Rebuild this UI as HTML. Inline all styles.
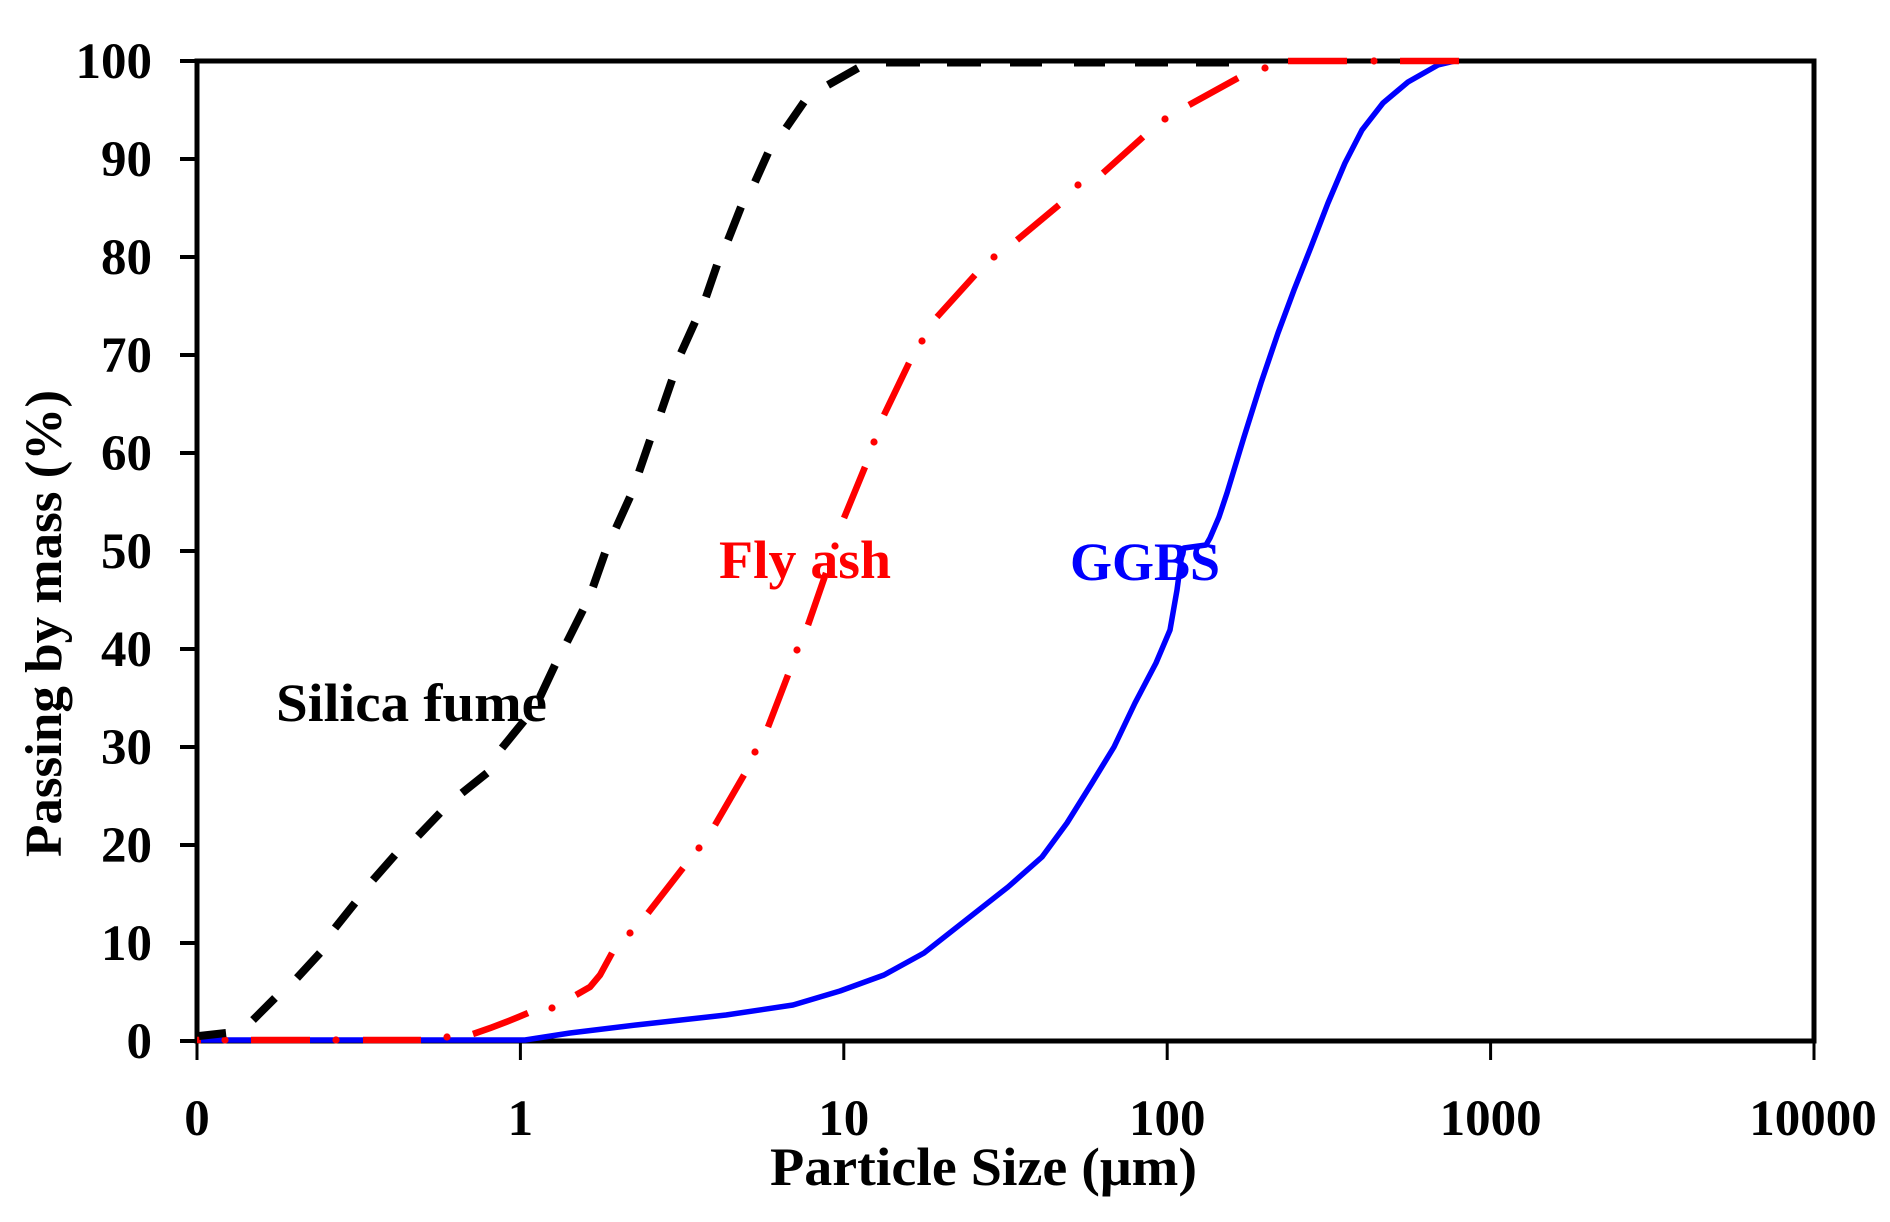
<!DOCTYPE html>
<html>
<head>
<meta charset="utf-8">
<style>
  html,body{margin:0;padding:0;background:#fff;}
  svg{display:block;}
  text{font-family:"Liberation Serif","DejaVu Serif",serif;font-weight:bold;}
</style>
</head>
<body>
<svg width="1890" height="1222" viewBox="0 0 1890 1222" xmlns="http://www.w3.org/2000/svg">
  <rect x="0" y="0" width="1890" height="1222" fill="#fff"/>

  <!-- frame -->
  <rect x="197" y="61" width="1617" height="980" fill="none" stroke="#000" stroke-width="5"/>

  <!-- y ticks -->
  <g stroke="#000" stroke-width="4">
    <line x1="180" y1="1041" x2="197" y2="1041"/>
    <line x1="180" y1="943" x2="197" y2="943"/>
    <line x1="180" y1="845" x2="197" y2="845"/>
    <line x1="180" y1="747" x2="197" y2="747"/>
    <line x1="180" y1="649" x2="197" y2="649"/>
    <line x1="180" y1="551" x2="197" y2="551"/>
    <line x1="180" y1="453" x2="197" y2="453"/>
    <line x1="180" y1="355" x2="197" y2="355"/>
    <line x1="180" y1="257" x2="197" y2="257"/>
    <line x1="180" y1="159" x2="197" y2="159"/>
    <line x1="180" y1="61" x2="197" y2="61"/>
  </g>
  <!-- x ticks -->
  <g stroke="#000" stroke-width="3">
    <line x1="197" y1="1041" x2="197" y2="1060"/>
    <line x1="520.4" y1="1041" x2="520.4" y2="1060"/>
    <line x1="843.8" y1="1041" x2="843.8" y2="1060"/>
    <line x1="1167.2" y1="1041" x2="1167.2" y2="1060"/>
    <line x1="1490.6" y1="1041" x2="1490.6" y2="1060"/>
    <line x1="1814" y1="1041" x2="1814" y2="1060"/>
  </g>

  <!-- y tick labels -->
  <g font-size="51" text-anchor="end" fill="#000">
    <text x="152" y="1058">0</text>
    <text x="152" y="960">10</text>
    <text x="152" y="862">20</text>
    <text x="152" y="764">30</text>
    <text x="152" y="666">40</text>
    <text x="152" y="568">50</text>
    <text x="152" y="470">60</text>
    <text x="152" y="372">70</text>
    <text x="152" y="274">80</text>
    <text x="152" y="176">90</text>
    <text x="152" y="78">100</text>
  </g>

  <!-- x tick labels -->
  <g font-size="51" text-anchor="middle" fill="#000">
    <text x="197" y="1135">0</text>
    <text x="520.4" y="1135">1</text>
    <text x="843.8" y="1135">10</text>
    <text x="1167.2" y="1135">100</text>
    <text x="1490.6" y="1135">1000</text>
    <text x="1813" y="1135">10000</text>
  </g>

  <!-- axis titles -->
  <text x="770" y="1185" font-size="54" textLength="427" lengthAdjust="spacingAndGlyphs" fill="#000">Particle Size (μm)</text>
  <text transform="translate(61,857) rotate(-90)" x="0" y="0" font-size="52" textLength="467" lengthAdjust="spacingAndGlyphs" fill="#000">Passing by mass (%)</text>

  <!-- GGBS solid blue -->
  <path d="M197,1040 L525,1040 L570,1033 L636,1025 L726,1015 L793,1005 L840,991 L884,975 L924,953 L966,920 L1008,887 L1042,857 L1067,823 L1092,783 L1114,747 L1135,703 L1156,663 L1170,630 L1177,590 L1181,560 L1184,548 L1206,545 L1210,538 L1219,517 L1227,493 L1244,437 L1261,383 L1278,333 L1294,290 L1311,247 L1328,203 L1345,163 L1362,130 L1383,103 L1408,82 L1438,65 L1455,61"
        fill="none" stroke="#0000ff" stroke-width="5.5" stroke-linejoin="round"/>

  <!-- Fly ash red dash-dot -->
  <g stroke="#ff0000" stroke-width="6.5" fill="none" stroke-linecap="butt">
    <line x1="197" y1="1040" x2="201" y2="1040"/>
    <line x1="251" y1="1040" x2="310" y2="1040"/>
    <line x1="363" y1="1040" x2="421" y2="1040"/>
    <path d="M473,1034 Q500,1025 528,1013"/>
    <path d="M576,995 L590,987 L600,975 L612,953"/>
    <line x1="648" y1="913" x2="683" y2="868"/>
    <line x1="715" y1="825" x2="744" y2="775"/>
    <line x1="768" y1="727" x2="788" y2="675"/>
    <line x1="808" y1="625" x2="826" y2="573"/>
    <line x1="844" y1="518" x2="865" y2="467"/>
    <line x1="884" y1="415" x2="909" y2="363"/>
    <line x1="937" y1="317" x2="975" y2="275"/>
    <line x1="1017" y1="240" x2="1059" y2="205"/>
    <line x1="1103" y1="173" x2="1143" y2="137"/>
    <line x1="1189" y1="105" x2="1238" y2="78"/>
    <line x1="1288" y1="61" x2="1347" y2="61"/>
    <line x1="1400" y1="61" x2="1459" y2="61"/>
  </g>
  <g fill="#ff0000">
    <circle cx="225" cy="1040" r="3.6"/>
    <circle cx="336" cy="1040" r="3.6"/>
    <circle cx="447" cy="1037" r="3.6"/>
    <circle cx="552" cy="1008" r="3.6"/>
    <circle cx="630" cy="933" r="3.6"/>
    <circle cx="699" cy="848" r="3.6"/>
    <circle cx="755" cy="752" r="3.6"/>
    <circle cx="797" cy="650" r="3.6"/>
    <circle cx="835" cy="546" r="3.6"/>
    <circle cx="874" cy="442" r="3.6"/>
    <circle cx="922" cy="341" r="3.6"/>
    <circle cx="994" cy="257" r="3.6"/>
    <circle cx="1078" cy="185" r="3.6"/>
    <circle cx="1165" cy="119" r="3.6"/>
    <circle cx="1265" cy="68" r="3.6"/>
    <circle cx="1374" cy="61" r="3.6"/>
  </g>

  <!-- Silica fume black dashed -->
  <g stroke="#000" stroke-width="8" fill="none" stroke-linecap="butt">
    <line x1="199" y1="1036" x2="226" y2="1033"/>
    <line x1="253" y1="1020" x2="275" y2="998"/>
    <line x1="297" y1="978" x2="320" y2="953"/>
    <line x1="335" y1="928" x2="355" y2="903"/>
    <line x1="373" y1="880" x2="395" y2="855"/>
    <line x1="418" y1="836" x2="440" y2="813"/>
    <line x1="462" y1="793" x2="487" y2="773"/>
    <line x1="502" y1="748" x2="524" y2="721"/>
    <line x1="540" y1="697" x2="555" y2="665"/>
    <line x1="567" y1="642" x2="583" y2="610"/>
    <line x1="593" y1="587" x2="605" y2="553"/>
    <line x1="616" y1="528" x2="630" y2="497"/>
    <line x1="639" y1="472" x2="650" y2="440"/>
    <line x1="661" y1="412" x2="672" y2="380"/>
    <line x1="681" y1="353" x2="695" y2="322"/>
    <line x1="706" y1="297" x2="717" y2="265"/>
    <line x1="728" y1="240" x2="741" y2="207"/>
    <line x1="755" y1="182" x2="768" y2="153"/>
    <line x1="786" y1="128" x2="804" y2="102"/>
    <line x1="828" y1="85" x2="858" y2="68"/>
  </g>
  <g stroke="#000" stroke-width="5" fill="none" stroke-linecap="butt">
    <line x1="886" y1="64" x2="920" y2="64"/>
    <line x1="947" y1="64" x2="981" y2="64"/>
    <line x1="1010" y1="64" x2="1042" y2="64"/>
    <line x1="1074" y1="64" x2="1105" y2="64"/>
    <line x1="1135" y1="64" x2="1168" y2="64"/>
    <line x1="1196" y1="64" x2="1229" y2="64"/>
  </g>

  <!-- series labels -->
  <text x="276" y="721" font-size="54" textLength="271" lengthAdjust="spacingAndGlyphs" fill="#000">Silica fume</text>
  <text x="719" y="578" font-size="54" textLength="172" lengthAdjust="spacingAndGlyphs" fill="#ff0000">Fly ash</text>
  <text x="1070" y="580" font-size="54" textLength="150" lengthAdjust="spacingAndGlyphs" fill="#0000ff">GGBS</text>
</svg>
</body>
</html>
